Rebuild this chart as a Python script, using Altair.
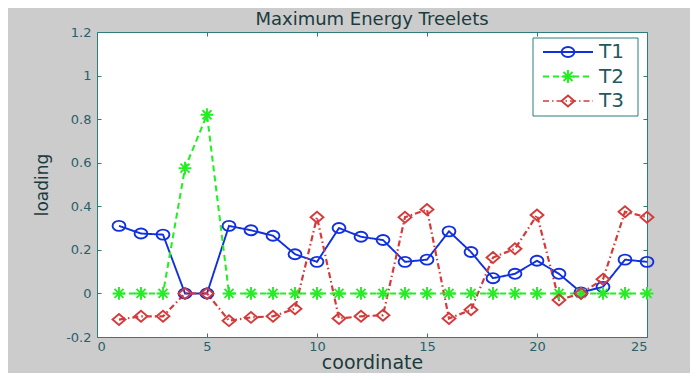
import altair as alt
import pandas as pd

# ---- data ----
coords = list(range(1, 26))
names = ["T1", "T2", "T3"]
t1 = [0.31, 0.275, 0.27, 0.0, 0.0, 0.31, 0.29, 0.265, 0.18, 0.145, 0.30, 0.26, 0.245,
      0.145, 0.155, 0.285, 0.19, 0.07, 0.09, 0.15, 0.09, 0.005, 0.03, 0.155, 0.145]
t2 = [0.0, 0.0, 0.0, 0.575, 0.82, 0.0, 0.0, 0.0, 0.0, 0.0, 0.0, 0.0, 0.0,
      0.0, 0.0, 0.0, 0.0, 0.0, 0.0, 0.0, 0.0, 0.0, 0.0, 0.0, 0.0]
t3 = [-0.12, -0.105, -0.105, 0.0, 0.0, -0.125, -0.11, -0.105, -0.07, 0.35, -0.115, -0.105, -0.10,
      0.35, 0.385, -0.115, -0.075, 0.165, 0.205, 0.36, -0.03, 0.0, 0.065, 0.375, 0.35]
x_ticks = [0, 5, 10, 15, 20, 25]
y_ticks = [-0.2, 0, 0.2, 0.4, 0.6, 0.8, 1, 1.2]

# ---- styles ----
colors = ["#1030e0", "#22ee22", "#d43a3a"]
dashes = [[1, 0], [6, 4], [6, 3, 1.5, 3]]
widths = [1.9, 2.2, 1.7]
ellipse = "M-1,0A1,0.78 0 1,1 1,0A1,0.78 0 1,1 -1,0Z"
star = "M0,-1V1M-1,0H1M-0.7,-0.7L0.7,0.7M-0.7,0.7L0.7,-0.7"
diamond = "M-1,0L0,-0.85L1,0L0,0.85Z"
shapes = [ellipse, star, diamond]
teal = "#2e7d7d"
label_col = "#2b6068"
title_col = "#1b3b3e"

df = pd.DataFrame({
    "coordinate": coords * 3,
    "series": [n for n in names for _ in coords],
    "loading": t1 + t2 + t3,
})

xscale = alt.Scale(domain=[0, 25], nice=False, zero=False)
yscale = alt.Scale(domain=[-0.2, 1.2], nice=False, zero=False)

base = alt.Chart(df)

lines = base.mark_line().encode(
    x=alt.X("coordinate:Q", scale=xscale,
            axis=alt.Axis(orient="bottom", values=x_ticks, offset=-4, tickSize=4, domain=False,
                          grid=False, labelPadding=3, title="coordinate", titleFontSize=19,
                          titlePadding=0, titleFontWeight="normal")),
    y=alt.Y("loading:Q", scale=yscale,
            axis=alt.Axis(orient="left", values=y_ticks, offset=-4, tickSize=4, domain=False,
                          grid=False, labelPadding=6, labelExpr="'' + datum.value",
                          title="loading", titleFontSize=17, titlePadding=14,
                          titleFontWeight="normal")),
    color=alt.Color("series:N", scale=alt.Scale(domain=names, range=colors), legend=None),
    strokeDash=alt.StrokeDash("series:N", scale=alt.Scale(domain=names, range=dashes), legend=None),
    strokeWidth=alt.StrokeWidth("series:N", scale=alt.Scale(domain=names, range=widths), legend=None),
)

points = base.mark_point(filled=False, strokeWidth=1.9, opacity=1, size=165).encode(
    x=alt.X("coordinate:Q", scale=xscale,
            axis=alt.Axis(orient="top", values=x_ticks, offset=-4, tickSize=4, domain=False,
                          grid=False, labels=False, title="")),
    y=alt.Y("loading:Q", scale=yscale,
            axis=alt.Axis(orient="right", values=y_ticks, offset=-4, tickSize=4, domain=False,
                          grid=False, labels=False, title="")),
    color=alt.Color("series:N", scale=alt.Scale(domain=names, range=colors), legend=None),
    shape=alt.Shape("series:N", scale=alt.Scale(domain=names, range=shapes), legend=None),
)

# ---- legend (MATLAB style, inside the top-right corner) ----
leg_df = pd.DataFrame({"series": names})
leg_rows = [20, 44.5, 69]
legend_layers = [
    alt.Chart(leg_df.head(1)).mark_rect(fill="white", stroke=teal, strokeWidth=1).encode(
        x=alt.value(436), x2=alt.value(541), y=alt.value(6), y2=alt.value(84))
]
for i, n in enumerate(names):
    src = alt.Chart(leg_df).transform_filter(alt.datum.series == n)
    legend_layers.append(src.mark_rule(color=colors[i], strokeDash=dashes[i],
                                       strokeWidth=widths[i]).encode(
        x=alt.value(446), x2=alt.value(496), y=alt.value(leg_rows[i])))
    legend_layers.append(src.mark_point(filled=False, color=colors[i], strokeWidth=1.9,
                                        opacity=1, size=165, shape=shapes[i]).encode(
        x=alt.value(471), y=alt.value(leg_rows[i])))
    legend_layers.append(src.mark_text(align="left", baseline="middle", font="DejaVu Sans",
                                       fontSize=20, color="#1f5a5c").encode(
        x=alt.value(502), y=alt.value(leg_rows[i]), text="series:N"))

chart = alt.layer(lines, points, *legend_layers).resolve_axis(
    x="independent", y="independent"
).properties(
    width=550, height=305,
    autosize=alt.AutoSizeParams(type="none"),
    padding={"left": 89, "top": 24, "right": 43, "bottom": 36},
    background="#cccccc",
    title=alt.Title("Maximum Energy Treelets", font="DejaVu Sans", fontSize=18,
                    fontWeight="normal", color=title_col, offset=-3, anchor="middle"),
).configure_view(
    stroke=teal, strokeWidth=1, fill="white"
).configure_axis(
    labelFont="DejaVu Sans", labelFontSize=13, labelColor=label_col,
    titleFont="DejaVu Sans", titleColor=title_col,
    tickColor=teal, tickWidth=1,
)

chart.save("out.html", embed_options={"renderer": "svg", "actions": False})
